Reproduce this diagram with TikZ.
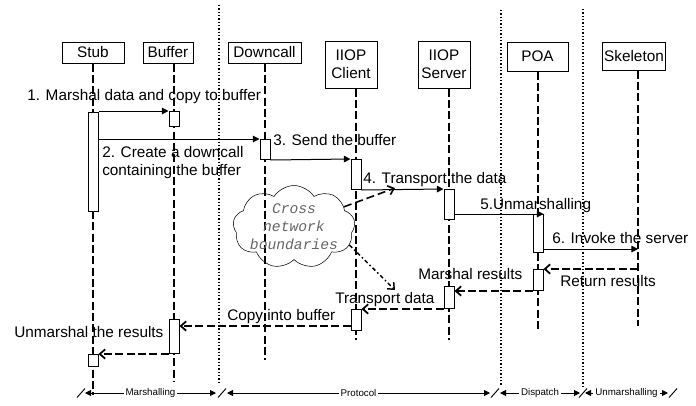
\documentclass[tikz,border=0pt]{standalone}
\usepackage{fontspec}
\setmainfont{Liberation Sans}
\setmonofont{Liberation Mono}
\usetikzlibrary{arrows.meta,calc,shapes.symbols}

\begin{document}
\begin{tikzpicture}[x=0.75pt,y=-0.75pt]
    \tikzset{block/.style= {draw, rectangle
    , line width=0.75pt
    , inner sep=1pt
    , align=center
    , font=\fontsize{11.5}{13.5}\selectfont
      }
    , act/.style= {draw, rectangle, fill=white
    , line width=0.75pt
    , minimum width=7.5pt, inner sep=0pt
    , anchor=north
      }
    , lifeline/.style= {line width=1.3pt, dash pattern=on 6pt off 2.5pt}
    , sep/.style= {line width=1.3pt, dash pattern=on 1.1pt off 1.4pt}
    , msg/.style= {line width=0.75pt, -{Triangle[length=5pt,width=5pt]}}
    , ret/.style= {lifeline, -{Straight Barb[length=4pt,width=7pt]}}
    , lbl/.style= {anchor=base west, inner sep=0pt, align=left
    , font=\fontsize{11.5}{13.5}\selectfont}
    , dim/.style= {line width=0.7pt
    , {Triangle[length=4.5pt,width=4.5pt]}-{Triangle[length=4.5pt,width=4.5pt]}}
    , dimlbl/.style= {midway, fill=white, inner sep=1.5pt
    , font=\fontsize{7.3}{8}\selectfont}
    }

\useasboundingbox (0,0) rectangle (696,405);

% objects
\node [block, minimum width=46.5pt, minimum height=15.75pt] (stub) at (93,52.5) {Stub};
\node [block, minimum width=37.5pt, minimum height=15.75pt] (buffer) at (168,52.5) {Buffer};
\node [block, minimum width=54.75pt, minimum height=15.75pt] (downcall) at (264.5,52.5) {Downcall};
\node [block, minimum width=39pt, minimum height=35.25pt] (client) at (351,64.5) {IIOP\\Client};
\node [block, minimum width=39pt, minimum height=35.25pt] (server) at (444,64.5) {IIOP\\Server};
\node [block, minimum width=45.75pt, minimum height=21.75pt] (poa) at (537.5,56.5) {POA};
\node [block, minimum width=46.5pt, minimum height=21pt] (skeleton) at (634,56) {Skeleton};

% layer separators
\draw[sep] (219,5) -- (219,385);
\draw[sep] (501,10) -- (501,385);
\draw[sep] (583,9) -- (583,388);

% lifelines
\coordinate (stubEnd) at (93,395);
\coordinate (bufferEnd) at (174,382);
\coordinate (downcallEnd) at (265,360);
\coordinate (clientEnd) at (356,340);
\coordinate (serverEnd) at (449,340);
\coordinate (poaEnd) at (538,331);
\coordinate (skeletonEnd) at (638,326);
\foreach \obj in {stub,buffer,downcall,client,server,poa,skeleton}
  \draw[lifeline] (\obj.south -| \obj End) -- (\obj End);

% activations
\node [act, minimum height=74.25pt] (stubA) at (93,112) {};
\node [act, minimum height=11.25pt] (bufferA) at (174,111) {};
\node [act, minimum height=15pt] (downcallA) at (265,139) {};
\node [act, minimum height=22.5pt] (clientA) at (356,159) {};
\node [act, minimum height=22.5pt] (serverA) at (449,189) {};
\node [act, minimum height=28.5pt] (poaA) at (538,214) {};
\node [act, minimum height=15.75pt] (poaB) at (538,269) {};
\node [act, minimum height=16.5pt] (serverB) at (449,286) {};
\node [act, minimum height=15.75pt] (clientB) at (356,309) {};
\node [act, minimum height=25.5pt] (bufferB) at (174,319) {};
\node [act, minimum height=9pt] (stubB) at (93,354) {};

% calls
\coordinate (invoke) at ($(poaA.south east)+(0,-4)$);
\path[draw, msg] (stubA.east |- bufferA.north west) -- (bufferA.north west);
\path[draw, msg] (stubA.east |- downcallA.north west) -- (downcallA.north west);
\path[draw, msg] (downcallA.south east) -- (clientA.north west);
\path[draw, msg] (clientA.south east) -- (serverA.north west);
\path[draw, msg] (serverA.east |- poaA.north east) -- (poaA.north east);
\path[draw, msg] (invoke) -- (invoke -| skeletonEnd);

% returns
\coordinate (copy) at ($(clientB.south west)+(0,-5)$);
\path[draw, ret] (poaB.north east -| skeletonEnd) -- (poaB.north east);
\path[draw, ret] (poaB.south west) -- (poaB.south west -| serverB.east);
\path[draw, ret] (clientB.north east -| serverB.west) -- (clientB.north east);
\path[draw, ret] (copy) -- (copy -| bufferB.east);
\path[draw, ret] (bufferB.south west) -- (bufferB.south west -| stubB.east);

% network
\node [cloud, draw, cloud puffs=9, cloud puff arc=115, aspect=1.8, inner sep=-2pt
      , minimum width=91pt, minimum height=54pt, align=center, text=black!60
      , font=\fontsize{11}{13.5}\selectfont\ttfamily\itshape] (net) at (294,227)
      {Cross\\network\\boundaries};
\coordinate (toServer) at (395,188);
\coordinate (toClient) at (395,290);
\draw[line width=1.2pt, dash pattern=on 6pt off 3pt
     , -{Straight Barb[length=4pt,width=7pt]}] (net.22) -- (toServer);
\draw[line width=1.1pt, dash dot
     , -{Straight Barb[length=4pt,width=7pt]}] (net.-18) -- (toClient);

% labels
\node [lbl] (call1) at (27,100) {1. Marshal data and copy to buffer};
\node [lbl, anchor=north west] (call2) at (102,146) {2. Create a downcall\\containing the buffer};
\node [lbl] (call3) at (273,145) {3. Send the buffer};
\node [lbl] (call4) at (363,183) {4. Transport the data};
\node [lbl] (call5) at (480,209) {5.Unmarshalling};
\node [lbl] (call6) at (552,243) {6. Invoke the server};
\node [lbl] (ret1) at (560,286) {Return results};
\node [lbl] (ret2) at (418,279) {Marshal results};
\node [lbl] (ret3) at (335,303) {Transport data};
\node [lbl] (ret4) at (227,320) {Copy into buffer};
\node [lbl] (ret5) at (14,337) {Unmarshal the results};

% layers
\coordinate (m0) at (85,393);
\coordinate (m1) at (216,393);
\coordinate (p0) at (227,393);
\coordinate (p1) at (490,393);
\coordinate (d0) at (500,393);
\coordinate (d1) at (580,393);
\coordinate (u0) at (585,393);
\coordinate (u1) at (668,393);
\draw[dim] (m0) -- (m1) node[dimlbl] {Marshalling};
\draw[dim] (p0) -- (p1) node[dimlbl] {Protocol};
\draw[dim] (d0) -- (d1) node[dimlbl] {Dispatch};
\draw[dim] (u0) -- (u1) node[dimlbl] {Unmarshalling};
\foreach \x in {81,222,495,583,673}
  \draw[line width=0.7pt] (\x-4,397.5) -- (\x+4,388.5);
\end{tikzpicture}
\end{document}
